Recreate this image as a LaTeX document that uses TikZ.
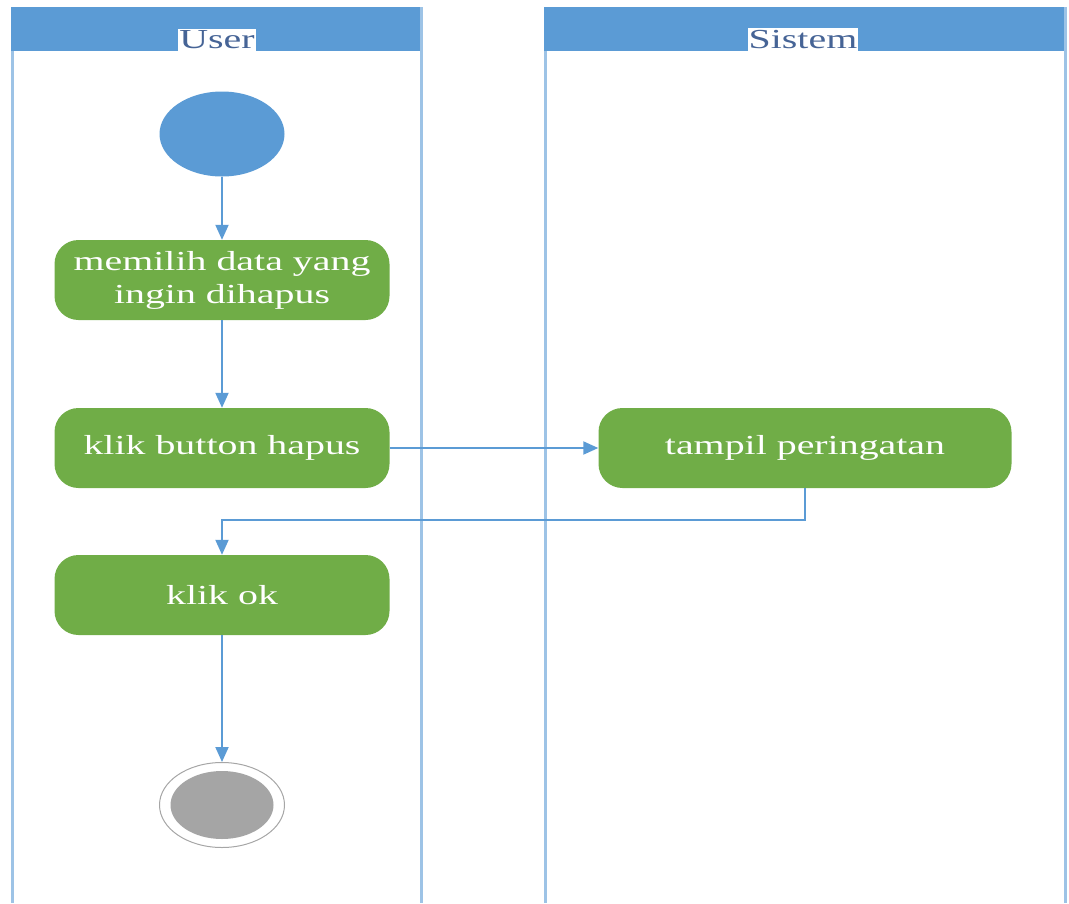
\documentclass[tikz,border=0pt]{standalone}
\usepackage{fontspec}
\setmainfont{Liberation Serif}
\newfontfamily\widefont[FakeStretch=1.45]{Liberation Serif}
\usetikzlibrary{arrows.meta,shapes.geometric}
\definecolor{laneblue}{HTML}{5B9BD5}
\definecolor{laneline}{HTML}{9DC3E6}
\definecolor{actgreen}{HTML}{70AD47}
\definecolor{endgray}{HTML}{A5A5A5}
\definecolor{titletext}{RGB}{70,100,150}
\tikzset{
  lanebar/.style={draw=laneline, line width=3pt},
  lanehead/.style={fill=laneblue, draw=none},
  lanetitle/.style={fill=white, inner xsep=1pt, inner ysep=2pt, text=titletext,
    font=\widefont\fontsize{27.5}{30}\selectfont, anchor=south},
  action/.style={fill=actgreen, draw=none, rounded corners=24pt, minimum width=335pt,
    minimum height=80pt, text=white, align=center,
    font=\widefont\fontsize{27.5}{33}\selectfont},
  startnode/.style={ellipse, fill=laneblue, draw=none, minimum width=125pt, minimum height=85pt},
  flow/.style={draw=laneblue, line width=2pt, -{Triangle[length=15pt,width=13pt]}},
}
\begin{document}
\begin{tikzpicture}[x=1pt,y=-1pt]
\useasboundingbox (0,0) rectangle (1069,903);
% swimlanes
\fill[lanehead] (11,7) rectangle (422,51);
\fill[lanehead] (544,7) rectangle (1066,51);
\draw[lanebar] (12,51) -- (12,903);
\draw[lanebar] (421,7) -- (421,903);
\draw[lanebar] (545,51) -- (545,903);
\draw[lanebar] (1065,7) -- (1065,903);
\node[lanetitle] (tuser) at (217,51) {User};
\node[lanetitle] (tsys) at (803,51) {Sistem};
% activity nodes
\node[startnode] (start) at (222,134) {};
\node[action] (pilih) at (222,280) {memilih data yang\\ingin dihapus};
\node[action] (klikhapus) at (222,448) {klik button hapus};
\node[action, minimum width=413pt] (peringatan) at (805,448) {tampil peringatan};
\node[action] (klikok) at (222,595) {klik ok};
\node[ellipse, draw=gray!70, line width=1pt, fill=white, minimum width=125pt, minimum height=85pt] (end) at (222,805) {};
\node[ellipse, fill=endgray, minimum width=103pt, minimum height=68pt] (endin) at (222,805) {};
% flows
\draw[flow] (start) -- (pilih);
\draw[flow] (pilih) -- (klikhapus);
\draw[flow] (klikhapus) -- (peringatan);
\draw[flow] (peringatan.south) -- ++(0,32) -| (klikok.north);
\draw[flow] (klikok) -- (end);
\end{tikzpicture}
\end{document}
